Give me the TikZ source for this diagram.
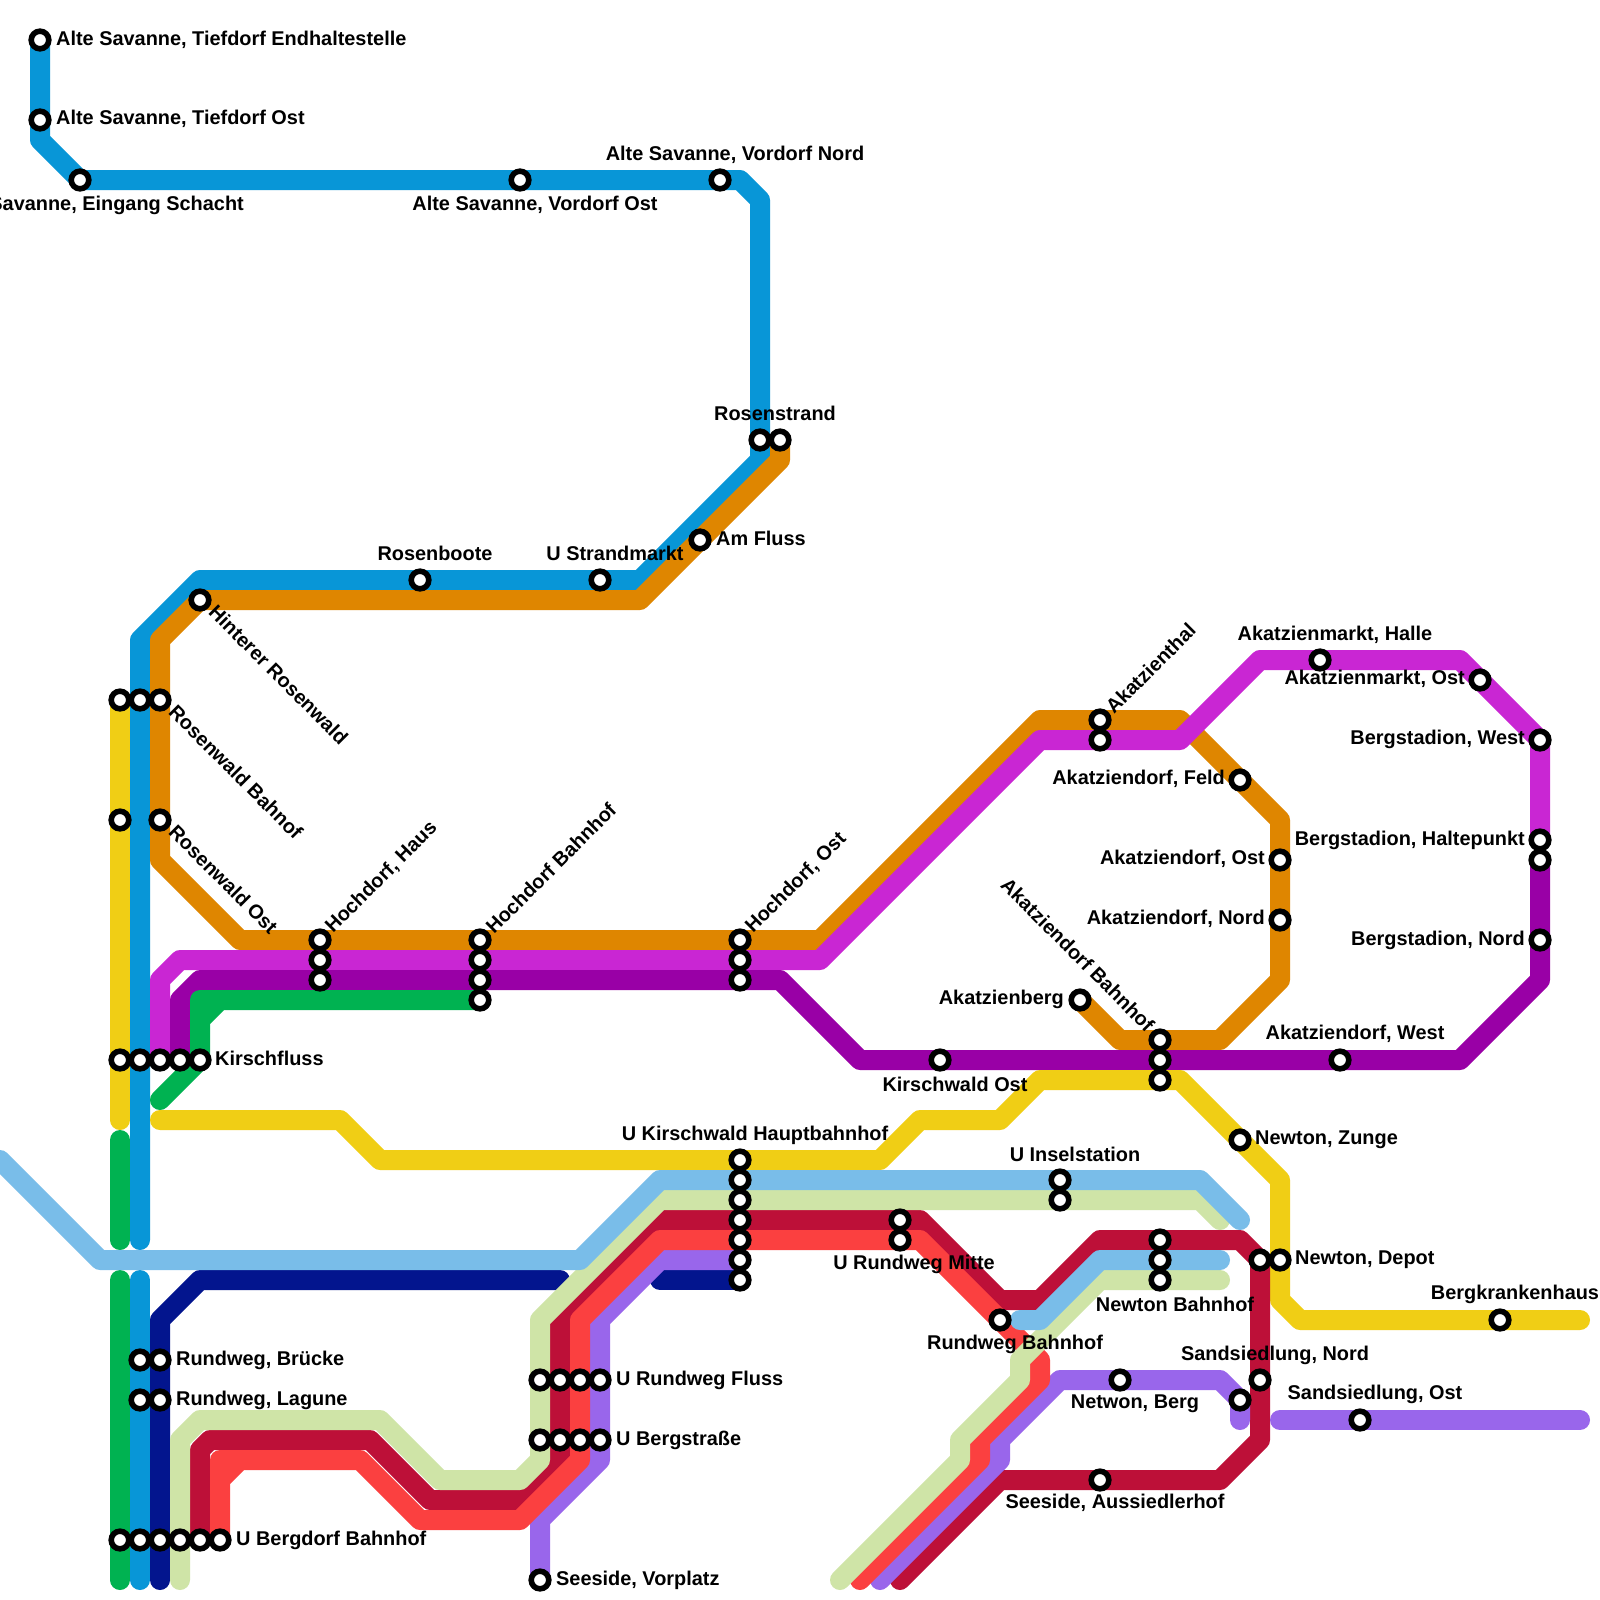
\documentclass[tikz,border=0pt]{standalone}
\usepackage{fontspec}
\setmainfont{Liberation Sans}
\definecolor{cblue}{HTML}{0896D7}
\definecolor{corange}{HTML}{DF8600}
\definecolor{cyellow}{HTML}{F0CE15}
\definecolor{cmagenta}{HTML}{C926D3}
\definecolor{cpurple}{HTML}{9900A6}
\definecolor{cgreen}{HTML}{00B251}
\definecolor{clight}{HTML}{79BDE9}
\definecolor{cpale}{HTML}{CFE4A7}
\definecolor{ccrimson}{HTML}{BD1038}
\definecolor{cred}{HTML}{FB4040}
\definecolor{cviolet}{HTML}{9966EB}
\definecolor{cnavy}{HTML}{03158E}
\tikzset{
 railline/.style={line width=20pt,line cap=round,line join=round,draw=#1},
 stn/.style={circle,draw=black,fill=white,line width=5.6pt,minimum size=17.6pt,inner sep=0pt},
 lab/.style={font=\fontsize{19.9}{22}\selectfont\bfseries,inner sep=0pt,text=black},
 labr/.style={lab,anchor=west,yshift=-1pt},
 labl/.style={lab,anchor=east,yshift=-1pt},
 labc/.style={lab,anchor=center,yshift=-1pt},
 labup/.style={lab,anchor=west,rotate=45},
 labdn/.style={lab,anchor=west,rotate=-45},
}
\begin{document}
\begin{tikzpicture}[x=1pt,y=-1pt]
\useasboundingbox (0,0) rectangle (1600,1600);
\fill[white] (0,0) rectangle (1600,1600);
% lines
\draw[railline=cblue] (40,40)--(40,140)--(80,180)--(740,180)--(760,200)--(760,460)--(640,580)--(200,580)--(140,640)--(140,1240);
\draw[railline=cblue] (140,1280)--(140,1580);
\draw[railline=corange] (780,440)--(780,460)--(640,600)--(200,600)--(160,640)--(160,860)--(240,940)--(820,940)--(1040,720)--(1180,720)--(1280,820)--(1280,980)--(1220,1040)--(1120,1040)--(1080,1000);
\draw[railline=cmagenta] (160,1060)--(160,980)--(180,960)--(820,960)--(1040,740)--(1180,740)--(1260,660)--(1460,660)--(1540,740)--(1540,840);
\draw[railline=cpurple] (180,1060)--(180,1000)--(200,980)--(780,980)--(860,1060)--(1460,1060)--(1540,980)--(1540,860);
\draw[railline=cgreen] (160,1100)--(200,1060)--(200,1020)--(220,1000)--(480,1000);
\draw[railline=cgreen] (200,1020)--(200,1000)--(220,1000);
\draw[railline=cgreen] (120,1140)--(120,1240);
\draw[railline=cgreen] (120,1280)--(120,1580);
\draw[railline=cyellow] (120,700)--(120,1120);
\draw[railline=cyellow] (160,1120)--(340,1120)--(380,1160)--(880,1160)--(920,1120)--(1000,1120)--(1040,1080)--(1180,1080)--(1280,1180)--(1280,1300)--(1300,1320)--(1580,1320);
\draw[railline=cnavy] (160,1580)--(160,1320)--(200,1280)--(560,1280);
\draw[railline=cnavy] (660,1280)--(740,1280);
\draw[railline=ccrimson] (200,1540)--(200,1450)--(210,1440)--(370,1440)--(430,1500)--(520,1500)--(560,1460)--(560,1320)--(660,1220)--(920,1220)--(1000,1300)--(1040,1300)--(1100,1240)--(1240,1240)--(1260,1260)--(1260,1440)--(1220,1480)--(1000,1480)--(900,1580);
\draw[railline=cviolet] (540,1580)--(540,1520)--(600,1460)--(600,1320)--(660,1260)--(740,1260);
\draw[railline=cviolet] (1240,1420)--(1240,1400)--(1220,1380)--(1060,1380)--(1000,1440)--(1000,1460)--(880,1580);
\draw[railline=cviolet] (1280,1420)--(1580,1420);
\draw[railline=cred] (220,1540)--(220,1480)--(240,1460)--(360,1460)--(420,1520)--(520,1520)--(580,1460)--(580,1320)--(660,1240)--(920,1240)--(1040,1360)--(1040,1380)--(980,1440)--(980,1460)--(860,1580);
\draw[railline=cred] (220,1480)--(220,1460)--(240,1460);
\draw[railline=cpale] (180,1580)--(180,1440)--(200,1420)--(380,1420)--(440,1480)--(520,1480)--(540,1460)--(540,1320)--(660,1200)--(1200,1200)--(1220,1220);
\draw[railline=cpale] (1220,1280)--(1100,1280)--(1020,1360)--(1020,1380)--(960,1440)--(960,1460)--(840,1580);
\draw[railline=clight] (0,1160)--(100,1260)--(580,1260)--(660,1180)--(1200,1180)--(1240,1220);
\draw[railline=clight] (1020,1320)--(1040,1320)--(1100,1260)--(1220,1260);
% stations
\foreach[count=\i] \p in {(40,40),(40,120),(80,180),(520,180),(720,180),(760,440),(780,440),
 (420,580),(600,580),(700,540),(200,600),
 (120,700),(140,700),(160,700),(120,820),(160,820),
 (320,940),(320,960),(320,980),(480,940),(480,960),(480,980),(480,1000),
 (740,940),(740,960),(740,980),
 (120,1060),(140,1060),(160,1060),(180,1060),(200,1060),
 (140,1360),(160,1360),(140,1400),(160,1400),
 (120,1540),(140,1540),(160,1540),(180,1540),(200,1540),(220,1540),
 (540,1380),(560,1380),(580,1380),(600,1380),(540,1440),(560,1440),(580,1440),(600,1440),(540,1580),
 (740,1160),(740,1180),(740,1200),(740,1220),(740,1240),(740,1260),(740,1280),
 (900,1220),(900,1240),(1060,1180),(1060,1200),(1000,1320),
 (1160,1240),(1160,1260),(1160,1280),(1160,1040),(1160,1060),(1160,1080),
 (940,1060),(1340,1060),(1080,1000),(1100,720),(1100,740),(1240,780),(1280,860),(1280,920),
 (1320,660),(1480,680),(1540,740),(1540,840),(1540,860),(1540,940),
 (1240,1140),(1260,1260),(1280,1260),(1500,1320),(1120,1380),(1240,1400),(1260,1380),(1360,1420),(1100,1480)}
 \node[stn] (s\i) at \p {};
% labels
\node[labr] (t1) at (56,39) {Alte Savanne, Tiefdorf Endhaltestelle};
\node[labr] (t2) at (56,118) {Alte Savanne, Tiefdorf Ost};
\node[labl] (t3) at (244,204) {Savanne, Eingang Schacht};
\node[labc] (t4) at (535,204) {Alte Savanne, Vordorf Ost};
\node[labc] (t5) at (735,154) {Alte Savanne, Vordorf Nord};
\node[labc] (t6) at (775,412) {Rosenstrand};
\node[labc] (t7) at (435,552) {Rosenboote};
\node[labc] (t8) at (615,552) {U Strandmarkt};
\node[labr] (t9) at (716,537) {Am Fluss};
\node[labdn] (t10) at (212.5,608.5) {Hinterer Rosenwald};
\node[labdn] (t11) at (172.5,708.5) {Rosenwald Bahnof};
\node[labdn] (t12) at (172.5,828.5) {Rosenwald Ost};
\node[labup] (t13) at (329,930) {Hochdorf, Haus};
\node[labup] (t14) at (489,930) {Hochdorf Bahnhof};
\node[labup] (t15) at (749,930) {Hochdorf, Ost};
\node[labup] (t16) at (1109,710) {Akatzienthal};
\node[labr] (t17) at (215,1057) {Kirschfluss};
\node[labr] (t18) at (176,1359) {Rundweg, Brücke};
\node[labr] (t19) at (176,1399) {Rundweg, Lagune};
\node[labr] (t20) at (236,1539) {U Bergdorf Bahnhof};
\node[labr] (t21) at (616,1379) {U Rundweg Fluss};
\node[labr] (t22) at (616,1439) {U Bergstraße};
\node[labr] (t23) at (556,1579) {Seeside, Vorplatz};
\node[labc] (t24) at (755,1134) {U Kirschwald Hauptbahnhof};
\node[labc] (t25) at (1075,1153) {U Inselstation};
\node[labc] (t26) at (914,1263) {U Rundweg Mitte};
\node[labc] (t27) at (1015,1343) {Rundweg Bahnhof};
\node[labc] (t28) at (1175,1303) {Newton Bahnhof};
\node[labc] (t29) at (1135,1403) {Netwon, Berg};
\node[labc] (t30) at (1115,1502) {Seeside, Aussiedlerhof};
\node[labc] (t31) at (955,1083) {Kirschwald Ost};
\node[labc] (t32) at (1355,1033) {Akatziendorf, West};
\node[labc] (t33) at (1335,634) {Akatzienmarkt, Halle};
\node[labc] (t34) at (1515,1293) {Bergkrankenhaus};
\node[labc] (t35) at (1275,1354) {Sandsiedlung, Nord};
\node[labc] (t36) at (1375,1393) {Sandsiedlung, Ost};
\node[labr] (t37) at (1255,1139) {Newton, Zunge};
\node[labr] (t38) at (1295,1259) {Newton, Depot};
\node[labl] (t39) at (1465,678) {Akatzienmarkt, Ost};
\node[labl] (t40) at (1525,738) {Bergstadion, West};
\node[labl] (t41) at (1525,839) {Bergstadion, Haltepunkt};
\node[labl] (t42) at (1525,939) {Bergstadion, Nord};
\node[labl] (t43) at (1225,778) {Akatziendorf, Feld};
\node[labl] (t44) at (1265,858) {Akatziendorf, Ost};
\node[labl] (t45) at (1265,918) {Akatziendorf, Nord};
\node[labl] (t46) at (1064,998) {Akatzienberg};
\node[lab,anchor=east,rotate=-45] (t47) at (1151,1028) {Akatziendorf Bahnhof};
\end{tikzpicture}
\end{document}
